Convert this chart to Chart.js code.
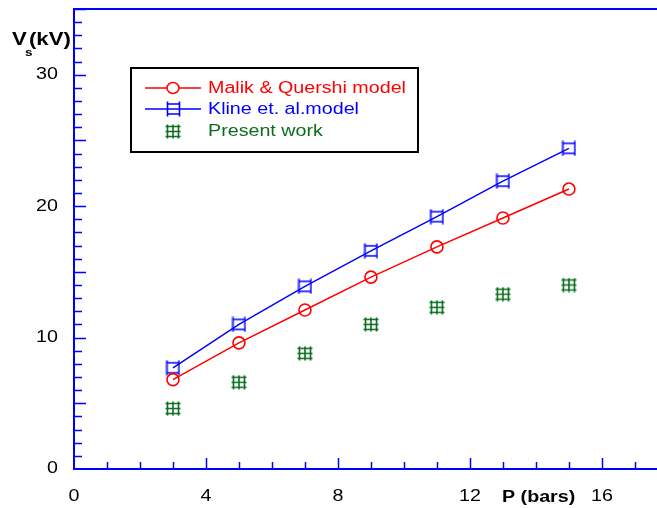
<!DOCTYPE html>
<html>
<head>
<meta charset="utf-8">
<script src="https://cdn.jsdelivr.net/npm/chart.js@4"></script>
<style>
  html, body { margin: 0; padding: 0; background: #fff; }
  #wrap { width: 657px; height: 508px; }
</style>
</head>
<body>
<div id="wrap"><canvas id="chart" width="657" height="508"></canvas></div>
<script>
// pressure values (bars)
const pressure = [3, 5, 7, 9, 11, 13, 15];
// breakdown voltage Vs (kV)
const malikQuershi = [6.8, 9.6, 12.1, 14.6, 16.9, 19.1, 21.3];
const klineModel = [7.7, 11.0, 13.9, 16.6, 19.2, 21.9, 24.4];
const presentWork = [4.6, 6.6, 8.8, 11.0, 12.3, 13.3, 14.0];

const seriesNames = ['Malik & Quershi model', 'Kline et. al.model', 'Present work'];
const xTicks = [0, 4, 8, 12, 16];
const yTicks = [0, 10, 20, 30];

const FONT = '"Liberation Sans", Arial, sans-serif';
const STRETCH = 1.23; // the original text is a bit wide
const AXIS_BLUE = '#0000ff';
const RED = '#ff0000';
const GREEN = '#0a6e1e';

// green "#" marker
function hashMarker(color) {
  const c = document.createElement('canvas');
  c.width = 16; c.height = 15;
  const g = c.getContext('2d');
  g.strokeStyle = color;
  g.lineWidth = 1.6;
  g.beginPath();
  [2.5, 8, 13.5].forEach(x => { g.moveTo(x, 0.5); g.lineTo(x, 14.5); });
  [2.5, 7.5, 12.5].forEach(y => { g.moveTo(0.5, y); g.lineTo(15.5, y); });
  g.stroke();
  return c;
}
// blue square with the sides poking out
function squareMarker(color) {
  const c = document.createElement('canvas');
  c.width = 15; c.height = 16;
  const g = c.getContext('2d');
  g.strokeStyle = color;
  g.lineWidth = 1.6;
  g.beginPath();
  g.moveTo(1.5, 3); g.lineTo(13.5, 3);
  g.moveTo(1.5, 13); g.lineTo(13.5, 13);
  g.moveTo(1.5, 0.5); g.lineTo(1.5, 15.5);
  g.moveTo(13.5, 0.5); g.lineTo(13.5, 15.5);
  g.stroke();
  return c;
}
const greenHash = hashMarker(GREEN);
const blueSquare = squareMarker(AXIS_BLUE);

const toXY = vals => vals.map((v, i) => ({ x: pressure[i], y: v }));

function drawText(ctx, text, x, y, align, font, color) {
  ctx.save();
  ctx.font = font;
  ctx.fillStyle = color;
  ctx.textBaseline = 'middle';
  ctx.textAlign = 'left';
  const w = ctx.measureText(text).width * STRETCH;
  let left = x;
  if (align === 'center') left = x - w / 2;
  if (align === 'right') left = x - w;
  ctx.translate(left, y);
  ctx.scale(STRETCH, 1);
  ctx.fillText(text, 0, 0);
  ctx.restore();
}

// frame top line, inner tick marks, tick labels, axis titles, legend box
const decorPlugin = {
  id: 'decor',
  afterDraw(chart) {
    const ctx = chart.ctx;
    const xs = chart.scales.x;
    const ys = chart.scales.y;
    const area = chart.chartArea;
    ctx.save();
    ctx.strokeStyle = AXIS_BLUE;
    ctx.lineWidth = 2;
    ctx.beginPath();
    ctx.moveTo(area.left, area.top);
    ctx.lineTo(area.right, area.top);
    ctx.stroke();

    ctx.lineWidth = 1.5;
    ctx.beginPath();
    for (let v = 1; v <= 17; v++) {
      const x = Math.round(xs.getPixelForValue(v)) + 0.5;
      const len = v % 4 === 0 ? 11 : 7;
      ctx.moveTo(x, area.bottom);
      ctx.lineTo(x, area.bottom - len);
    }
    for (let v = 1; v <= 35; v++) {
      const y = Math.round(ys.getPixelForValue(v)) + 0.5;
      const len = v % 5 === 0 ? 12 : 8;
      ctx.moveTo(area.left, y);
      ctx.lineTo(area.left + len, y);
    }
    ctx.stroke();
    ctx.restore();

    const tickFont = '16px ' + FONT;
    xTicks.forEach(v => drawText(ctx, String(v), xs.getPixelForValue(v), 497, 'center', tickFont, '#000'));
    yTicks.forEach(v => drawText(ctx, String(v), 58, ys.getPixelForValue(v), 'right', tickFont, '#000'));

    // axis titles
    drawText(ctx, 'V', 12, 40, 'left', 'bold 18px ' + FONT, '#000');
    drawText(ctx, 's', 25, 53, 'left', 'bold 11px ' + FONT, '#000');
    drawText(ctx, '(kV)', 29, 40, 'left', 'bold 18px ' + FONT, '#000');
    drawText(ctx, 'P (bars)', 502, 498, 'left', 'bold 16px ' + FONT, '#000');

    // legend
    ctx.save();
    const lx = 131, ly = 68, lw = 287, lh = 84;
    ctx.strokeStyle = '#000';
    ctx.lineWidth = 2;
    ctx.strokeRect(lx, ly, lw, lh);
    const rows = [88, 109, 131];
    chart.data.datasets.forEach((ds, i) => {
      const y = rows[i];
      const mx = 173;
      if (ds.showLine !== false) {
        ctx.strokeStyle = ds.borderColor;
        ctx.lineWidth = 1.5;
        ctx.beginPath();
        ctx.moveTo(145, y);
        ctx.lineTo(201, y);
        ctx.stroke();
      }
      if (ds.pointStyle === 'circle') {
        ctx.fillStyle = '#fff';
        ctx.beginPath();
        ctx.ellipse(mx, y, 6, 5.5, 0, 0, Math.PI * 2);
        ctx.fill();
        ctx.stroke();
      } else {
        const img = ds.pointStyle;
        ctx.drawImage(img, Math.round(mx - img.width / 2), Math.round(y - img.height / 2));
      }
      drawText(ctx, ds.label, 208, y + 1, 'left', '16px ' + FONT, ds.legendColor);
    });
    ctx.restore();
  }
};

new Chart(document.getElementById('chart'), {
  type: 'scatter',
  data: {
    datasets: [
      {
        label: seriesNames[0],
        data: toXY(malikQuershi),
        showLine: true,
        borderColor: RED,
        backgroundColor: 'rgba(255,255,255,0)',
        legendColor: RED,
        borderWidth: 1.5,
        pointStyle: 'circle',
        pointRadius: 6,
        pointBorderWidth: 1.6,
        pointBackgroundColor: 'rgba(255,255,255,0)'
      },
      {
        label: seriesNames[1],
        data: toXY(klineModel),
        showLine: true,
        borderColor: AXIS_BLUE,
        backgroundColor: 'rgba(255,255,255,0)',
        legendColor: AXIS_BLUE,
        borderWidth: 1.5,
        pointStyle: blueSquare,
        pointRadius: 7
      },
      {
        label: seriesNames[2],
        data: toXY(presentWork),
        showLine: false,
        borderColor: GREEN,
        legendColor: GREEN,
        pointStyle: greenHash,
        pointRadius: 7
      }
    ]
  },
  options: {
    responsive: false,
    animation: false,
    layout: { autoPadding: false, padding: { top: 9, right: 0, left: 0, bottom: 0 } },
    plugins: {
      legend: { display: false },
      tooltip: { enabled: false }
    },
    scales: {
      x: {
        type: 'linear',
        min: 0,
        max: 17.67,
        afterBuildTicks: s => { s.ticks = xTicks.map(v => ({ value: v })); },
        afterFit: s => {
          s.height = 39;
          s.paddingLeft = 0; s.paddingRight = 0;
        },
        grid: { display: false, drawTicks: false },
        border: { display: true, color: AXIS_BLUE, width: 2 },
        ticks: { display: false }
      },
      y: {
        type: 'linear',
        min: 0,
        max: 35,
        afterBuildTicks: s => { s.ticks = yTicks.map(v => ({ value: v })); },
        afterFit: s => {
          s.width = 74;
          s.paddingTop = 0; s.paddingBottom = 0;
        },
        grid: { display: false, drawTicks: false },
        border: { display: true, color: AXIS_BLUE, width: 2 },
        ticks: { display: false }
      }
    }
  },
  plugins: [decorPlugin]
});
</script>
</body>
</html>
